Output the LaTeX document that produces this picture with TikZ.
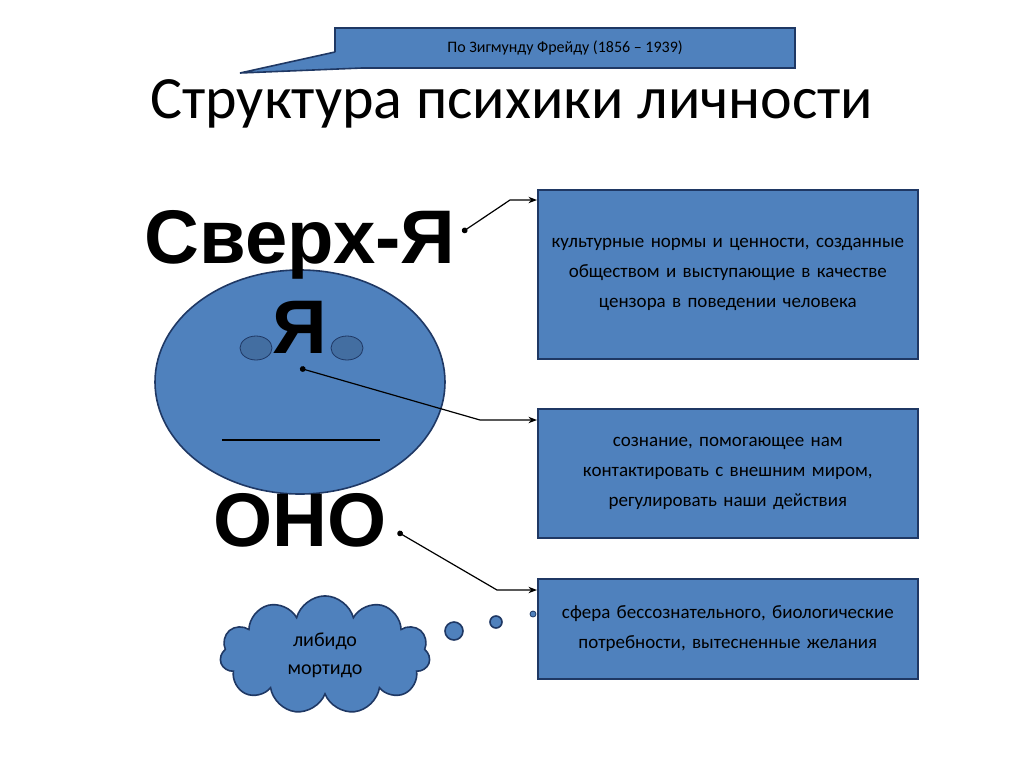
\documentclass[tikz,border=0pt]{standalone}
\usepackage{fontspec}
\setmainfont{Carlito}
\newfontfamily\heavyfont{Liberation Sans}
\usetikzlibrary{shapes.geometric, shapes.symbols, arrows.meta, positioning}
\definecolor{boxblue}{HTML}{4F81BD}
\definecolor{edgeblue}{HTML}{1F3864}

\begin{document}
\begin{tikzpicture}[
    x=0.5pt, y=-0.5pt,
    infobox/.style={rectangle, draw=edgeblue, fill=boxblue, thick, minimum width=190pt, align=center, font=\fontsize{9.5}{15}\selectfont, text width=180pt, anchor=north west},
    biglabel/.style={font=\heavyfont\bfseries\fontsize{38}{40}\selectfont},
    pointer/.style={{Circle[length=1mm]}-{Stealth[length=1.5mm]}, semithick},
]
\useasboundingbox (0,0) rectangle (1024,767);

% header and title
\draw[draw=edgeblue, fill=boxblue, thick] (335,28) rectangle (795,68);
\draw[draw=edgeblue, fill=boxblue, thick] (335,52) -- (240,73) -- (362,68);
\node (author) at (565,48) {\fontsize{8}{10}\selectfont По Зигмунду Фрейду (1856 -- 1939)};
\node (title) at (512,104) {\fontsize{30}{34}\selectfont Структура психики личности};

% head
\node[ellipse, draw=edgeblue, fill=boxblue, thick, minimum width=145pt, minimum height=112pt] (head) at (300,382) {};
\node[ellipse, draw=edgeblue, fill=boxblue!85!black, minimum width=16pt, minimum height=12pt] (eyeL) at (256,348) {};
\node[ellipse, draw=edgeblue, fill=boxblue!85!black, minimum width=16pt, minimum height=12pt] (eyeR) at (347,348) {};
\draw[thick] (222,440) -- (380,440);

\node[biglabel] (superego) at (300,245) {Сверх-Я};
\node[biglabel] (ego) at (300,327) {Я};
\node[biglabel] (id) at (300,520) {ОНО};

% boxes
\node[infobox, minimum height=84.5pt] (bsuper) at (537,189) {культурные нормы и ценности, созданные обществом и выступающие в качестве цензора в поведении человека};
\node[infobox, minimum height=64.5pt] (bego) at (537,408) {сознание, помогающее нам контактировать с внешним миром, регулировать наши действия};
\node[infobox, minimum height=50pt] (bid) at (537,578) {сфера бессознательного, биологические потребности, вытесненные желания};

% connectors
\coordinate (k1) at (510,200);
\coordinate (k2) at (480,420);
\coordinate (k3) at (497,590);
\draw[pointer] (superego.east) ++(0,-13) -- (k1) -- (bsuper.west |- k1);
\draw[pointer] (ego.south) ++(0,8) -- (k2) -- (bego.west |- k2);
\draw[pointer] (id.east) ++(4,12) -- (k3) -- (bid.west |- k3);

% thought cloud
\node[cloud, cloud puffs=11, aspect=2.2, draw=edgeblue, fill=boxblue, thick, minimum width=105pt, minimum height=48pt, align=center, font=\fontsize{10}{14}\selectfont] (drives) at (325,655) {либидо\\мортидо};
\node[circle, draw=edgeblue, fill=boxblue, thick, minimum size=9pt, inner sep=0pt] (bub1) at (454,631) {};
\node[circle, draw=edgeblue, fill=boxblue, thick, minimum size=6pt, inner sep=0pt] (bub2) at (496,622) {};
\node[circle, draw=edgeblue, fill=boxblue, minimum size=3pt, inner sep=0pt] (bub3) at (533,614) {};
\end{tikzpicture}
\end{document}
